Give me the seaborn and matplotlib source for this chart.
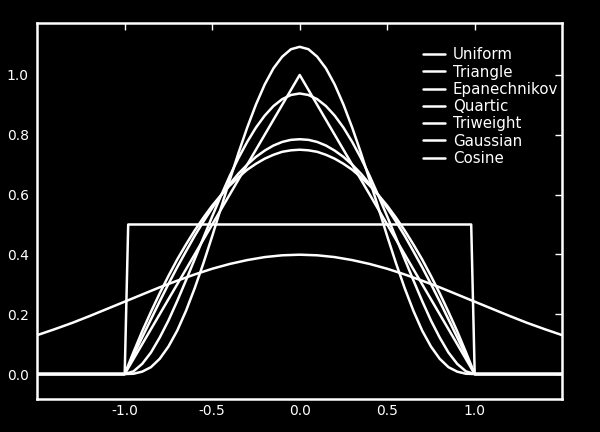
import numpy as np
import pandas as pd
import matplotlib
matplotlib.use("Agg")
import matplotlib.pyplot as plt
import seaborn as sns

# grid for the compact kernels (support -1..1)
x_inner = [round(v, 2) for v in np.linspace(-1.0, 1.0, 41)]
x_pad = [-1.5, 1.5]

# half curves, u = 0.00, 0.05, ..., 1.00
epan_half = [0.750, 0.748, 0.743, 0.733, 0.720, 0.703, 0.683, 0.658, 0.630, 0.598, 0.563,
             0.523, 0.480, 0.433, 0.383, 0.328, 0.270, 0.208, 0.143, 0.073, 0.000]
quartic_half = [0.938, 0.933, 0.919, 0.896, 0.864, 0.824, 0.776, 0.722, 0.662, 0.596, 0.527,
                0.456, 0.384, 0.313, 0.244, 0.179, 0.122, 0.072, 0.034, 0.009, 0.000]
triweight_half = [1.094, 1.086, 1.061, 1.022, 0.968, 0.901, 0.824, 0.739, 0.648, 0.555, 0.461,
                  0.371, 0.287, 0.211, 0.145, 0.092, 0.051, 0.023, 0.008, 0.001, 0.000]
cosine_half = [0.785, 0.783, 0.776, 0.764, 0.747, 0.726, 0.700, 0.670, 0.635, 0.597, 0.555,
               0.510, 0.462, 0.410, 0.357, 0.301, 0.243, 0.183, 0.123, 0.062, 0.000]

# Gaussian, u = 0.0 .. 1.5 step 0.1
gauss_x_half = [0.0, 0.1, 0.2, 0.3, 0.4, 0.5, 0.6, 0.7, 0.8, 0.9, 1.0, 1.1, 1.2, 1.3, 1.4, 1.5]
gauss_half = [0.399, 0.397, 0.391, 0.381, 0.368, 0.352, 0.333, 0.312, 0.290, 0.266, 0.242,
              0.218, 0.194, 0.171, 0.150, 0.130]

uniform_x = [-1.5, -1.0, -0.98, 0.98, 1.0, 1.5]
uniform_y = [0.0, 0.0, 0.5, 0.5, 0.0, 0.0]
triangle_x = [-1.5, -1.0, 0.0, 1.0, 1.5]
triangle_y = [0.0, 0.0, 1.0, 0.0, 0.0]

kernel_names = ["Uniform", "Triangle", "Epanechnikov", "Quartic", "Triweight", "Gaussian", "Cosine"]


def full(half):
    return half[::-1] + half[1:]


def compact(half):
    xs = [x_pad[0]] + x_inner + [x_pad[1]]
    ys = [0.0] + full(half) + [0.0]
    return xs, ys


curves = {
    "Uniform": (uniform_x, uniform_y),
    "Triangle": (triangle_x, triangle_y),
    "Epanechnikov": compact(epan_half),
    "Quartic": compact(quartic_half),
    "Triweight": compact(triweight_half),
    "Gaussian": ([-v for v in gauss_x_half[::-1]] + gauss_x_half[1:], full(gauss_half)),
    "Cosine": compact(cosine_half),
}

rows = []
for name in kernel_names:
    xs, ys = curves[name]
    for a, b in zip(xs, ys):
        rows.append({"x": a, "y": b, "kernel": name})
df = pd.DataFrame(rows)

plt.style.use("dark_background")
sns.set_style("dark", {"axes.facecolor": "black", "figure.facecolor": "black",
                       "axes.edgecolor": "white", "text.color": "white",
                       "xtick.color": "white", "ytick.color": "white",
                       "axes.labelcolor": "white", "axes.grid": False})
plt.rcParams["font.family"] = ["DejaVu Sans"]
plt.rcParams["axes.unicode_minus"] = False

fig = plt.figure(figsize=(6, 4.32), dpi=100)
ax = fig.add_axes([0.062, 0.076, 0.875, 0.871])

for name in kernel_names:
    sub = df[df.kernel == name]
    sns.lineplot(data=sub, x="x", y="y", estimator=None, sort=False, color="white",
                 linewidth=1.8, label=name, ax=ax)

ax.set_xlim(-1.5, 1.5)
ax.set_ylim(-0.084, 1.174)
ax.set_xticks([-1.0, -0.5, 0.0, 0.5, 1.0])
ax.set_yticks([0.0, 0.2, 0.4, 0.6, 0.8, 1.0])
ax.set_xlabel("")
ax.set_ylabel("")
ax.tick_params(direction="in", length=5, width=1, top=True, right=True,
               labelsize=10, colors="white")
ax.tick_params(axis="x", pad=3.5)
ax.tick_params(axis="y", pad=6)
for s in ax.spines.values():
    s.set_color("white")
    s.set_linewidth(1.8)

leg = ax.legend(loc="upper right", bbox_to_anchor=(1.004, 0.951), frameon=False,
                fontsize=10.8, handlelength=1.5, handletextpad=0.5, labelspacing=0.15,
                borderaxespad=0.0)
for t in leg.get_texts():
    t.set_color("white")

fig.savefig("out.png", dpi=100, facecolor="black")
